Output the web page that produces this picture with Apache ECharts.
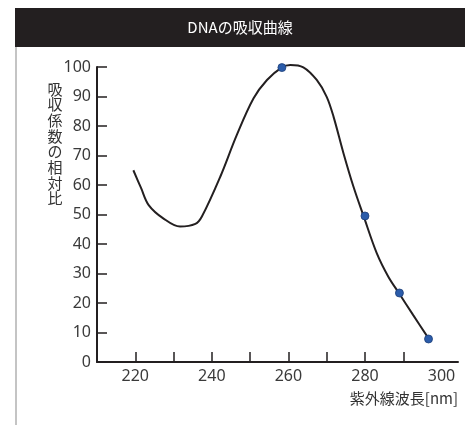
<!DOCTYPE html>
<html>
<head>
<meta charset="utf-8">
<script src="https://cdn.jsdelivr.net/npm/echarts@6/dist/echarts.min.js"></script>
<style>html,body{margin:0;padding:0;background:#fff}#c{width:465px;height:425px}</style>
</head>
<body>
<div id="c"></div>
<script>
var titleText = 'DNAの吸収曲線';
var xName = '紫外線波長[nm]';
var yName = '吸収係数の相対比';
var curveX = [219.5, 221.5, 223.5, 227.3, 231.7, 235.7, 237.4, 242.2, 246.5, 250.9, 254.4, 258.3, 260.5, 263.9, 267.4, 270.0, 271.8, 274.4, 277.0, 279.6, 283.1, 286.1, 288.9, 292.6, 296.6];
var curveY = [65, 59, 53.2, 48.7, 45.9, 46.8, 49.3, 62.8, 76.9, 89.4, 95.6, 99.9, 100.7, 99.9, 95.6, 89.9, 83.1, 70.7, 59.4, 49.6, 36.8, 28.9, 23.3, 15.9, 8];
var pointX = [258.3, 280, 289, 296.6];
var pointY = [99.8, 49.5, 23.4, 7.8];
var xTicks = [220, 230, 240, 250, 260, 270, 280, 290];
var xLabels = [220, 240, 260, 280, 300];

var curve = curveX.map(function (x, i) { return [x, curveY[i]]; });
var pts = pointX.map(function (x, i) { return [x, pointY[i]]; });
var chart = echarts.init(document.getElementById('c'));
var font = '"Noto Sans", sans-serif';
var cjk = '"Noto Sans CJK JP", sans-serif';
chart.setOption({
  animation: false,
  grid: { left: 97, right: 7, top: 67, bottom: 63 },
  xAxis: {
    type: 'value', min: 210, max: 304.3,
    axisLine: { show: true, lineStyle: { color: '#231f20', width: 2 } },
    axisTick: { show: true, inside: true, length: 10, customValues: xTicks, lineStyle: { color: '#231f20', width: 1.5 } },
    axisLabel: { customValues: xLabels, color: '#3a3a3a', fontSize: 16, fontFamily: font, margin: 6 },
    splitLine: { show: false }
  },
  yAxis: {
    type: 'value', min: 0, max: 100, interval: 10,
    axisLine: { show: true, lineStyle: { color: '#231f20', width: 2 } },
    axisTick: { show: true, inside: true, length: 10, lineStyle: { color: '#231f20', width: 1.5 } },
    axisLabel: { color: '#3a3a3a', fontSize: 16, fontFamily: font, margin: 6 },
    splitLine: { show: false }
  },
  series: [
    { type: 'line', data: curve, smooth: 0.35, clip: false, showSymbol: false, lineStyle: { color: '#231f20', width: 2 }, z: 2 },
    { type: 'scatter', data: pts, clip: false, symbolSize: 8, itemStyle: { color: '#2b5caa', borderColor: '#1d3f78', borderWidth: 0.8, opacity: 1 }, z: 3 }
  ],
  graphic: [
    { type: 'rect', shape: { x: 15, y: 8, width: 450, height: 39 }, style: { fill: '#231f20' } },
    { type: 'rect', shape: { x: 15, y: 47, width: 2, height: 378 }, style: { fill: '#c4c4c4' } },
    { type: 'text', x: 240, y: 27, style: { text: titleText, fill: '#fff', fontSize: 15, fontFamily: cjk, align: 'center', verticalAlign: 'middle' } },
    { type: 'text', x: 458, y: 398, style: { text: xName, fill: '#333', fontSize: 15, fontFamily: cjk, align: 'right', verticalAlign: 'middle' } },
    { type: 'text', x: 55, y: 81, style: { text: yName.split('').join('\n'), fill: '#333', fontSize: 15, lineHeight: 15.7, fontFamily: cjk, align: 'center', verticalAlign: 'top' } }
  ]
});
</script>
</body>
</html>
